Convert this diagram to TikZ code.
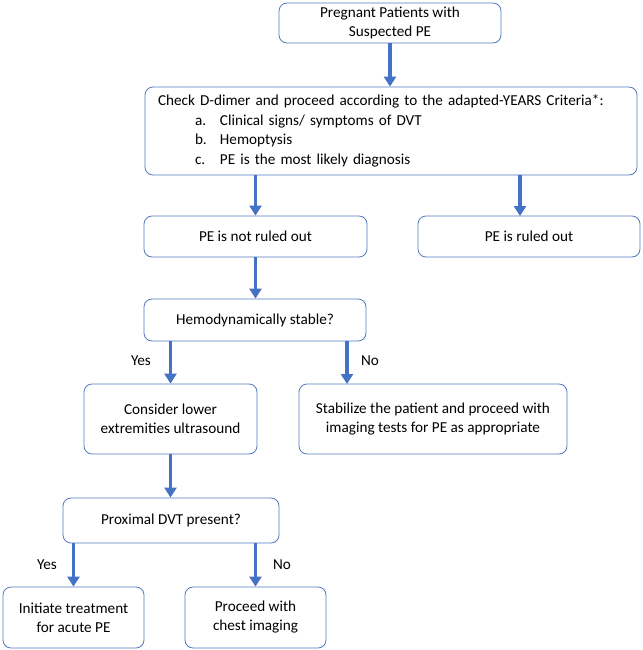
\documentclass[tikz,border=0pt]{standalone}
\usepackage{fontspec}
\setmainfont{Carlito}
\usetikzlibrary{arrows.meta}
\definecolor{boxline}{HTML}{5479BE}
\definecolor{arrblue}{HTML}{4472C4}
\begin{document}
\begin{tikzpicture}[x=1pt,y=-1pt,
  box/.style={draw=boxline,line width=0.8pt,rounded corners=8pt,fill=white,align=center,inner sep=0pt,font=\fontsize{15.2}{19}\selectfont},
  arr/.style={draw=arrblue,line width=3.5pt,-{Triangle[width=12pt,length=10pt]}},
  lbl/.style={font=\fontsize{15.2}{19}\selectfont,inner sep=0pt}]
\useasboundingbox (0,0) rectangle (642,650);
\node[box,minimum width=222pt,minimum height=40pt] (b1) at (390,23) {Pregnant Patients with\\Suspected PE};
\node[box,minimum width=492pt,minimum height=88pt,text width=466pt,inner xsep=13pt,align=left,font=\fontsize{15.2}{19.5}\selectfont] (b2) at (391,131)
 {Check D-dimer and proceed according to the adapted-YEARS Criteria*:\\
  \hspace*{37pt}\makebox[25pt][l]{a.}Clinical signs/ symptoms of DVT\\
  \hspace*{37pt}\makebox[25pt][l]{b.}Hemoptysis\\
  \hspace*{37pt}\makebox[25pt][l]{c.}PE is the most likely diagnosis};
\node[box,minimum width=223pt,minimum height=41pt] (nr) at (255.5,236.5) {PE is not ruled out};
\node[box,minimum width=222pt,minimum height=41pt] (r) at (529,236.5) {PE is ruled out};
\node[box,minimum width=222pt,minimum height=42pt] (hs) at (255,320) {Hemodynamically stable?};
\node[box,minimum width=173pt,minimum height=70pt] (us) at (170.5,419) {Consider lower\\extremities ultrasound};
\node[box,minimum width=268pt,minimum height=70pt] (st) at (433,419) {Stabilize the patient and proceed with\\imaging tests for PE as appropriate};
\node[box,minimum width=216pt,minimum height=45pt] (pd) at (171,520.5) {Proximal DVT present?};
\node[box,minimum width=141pt,minimum height=61pt] (it) at (73.5,617.5) {Initiate treatment\\for acute PE};
\node[box,minimum width=141pt,minimum height=61pt] (pc) at (255.5,617.5) {Proceed with\\chest imaging};
\coordinate (rin) at (520,216);
\coordinate (stin) at (347,384);
\draw[arr] (b1.south) -- (b2.north -| b1.south);
\draw[arr] (b2.south -| nr.north) -- (nr.north);
\draw[arr] (b2.south -| rin) -- (rin);
\draw[arr] (nr.south) -- (hs.north -| nr.south);
\draw[arr] (hs.south -| us.north) -- (us.north);
\draw[arr] (hs.south -| stin) -- (stin);
\draw[arr] (us.south) -- (pd.north -| us.south);
\draw[arr] (pd.south -| it.north) -- (it.north);
\draw[arr] (pd.south -| pc.north) -- (pc.north);
\node[lbl] (y1) at (141,361) {Yes};
\node[lbl] (n1) at (370,361) {No};
\node[lbl] (y2) at (47,565) {Yes};
\node[lbl] (n2) at (282,565) {No};
\end{tikzpicture}
\end{document}
